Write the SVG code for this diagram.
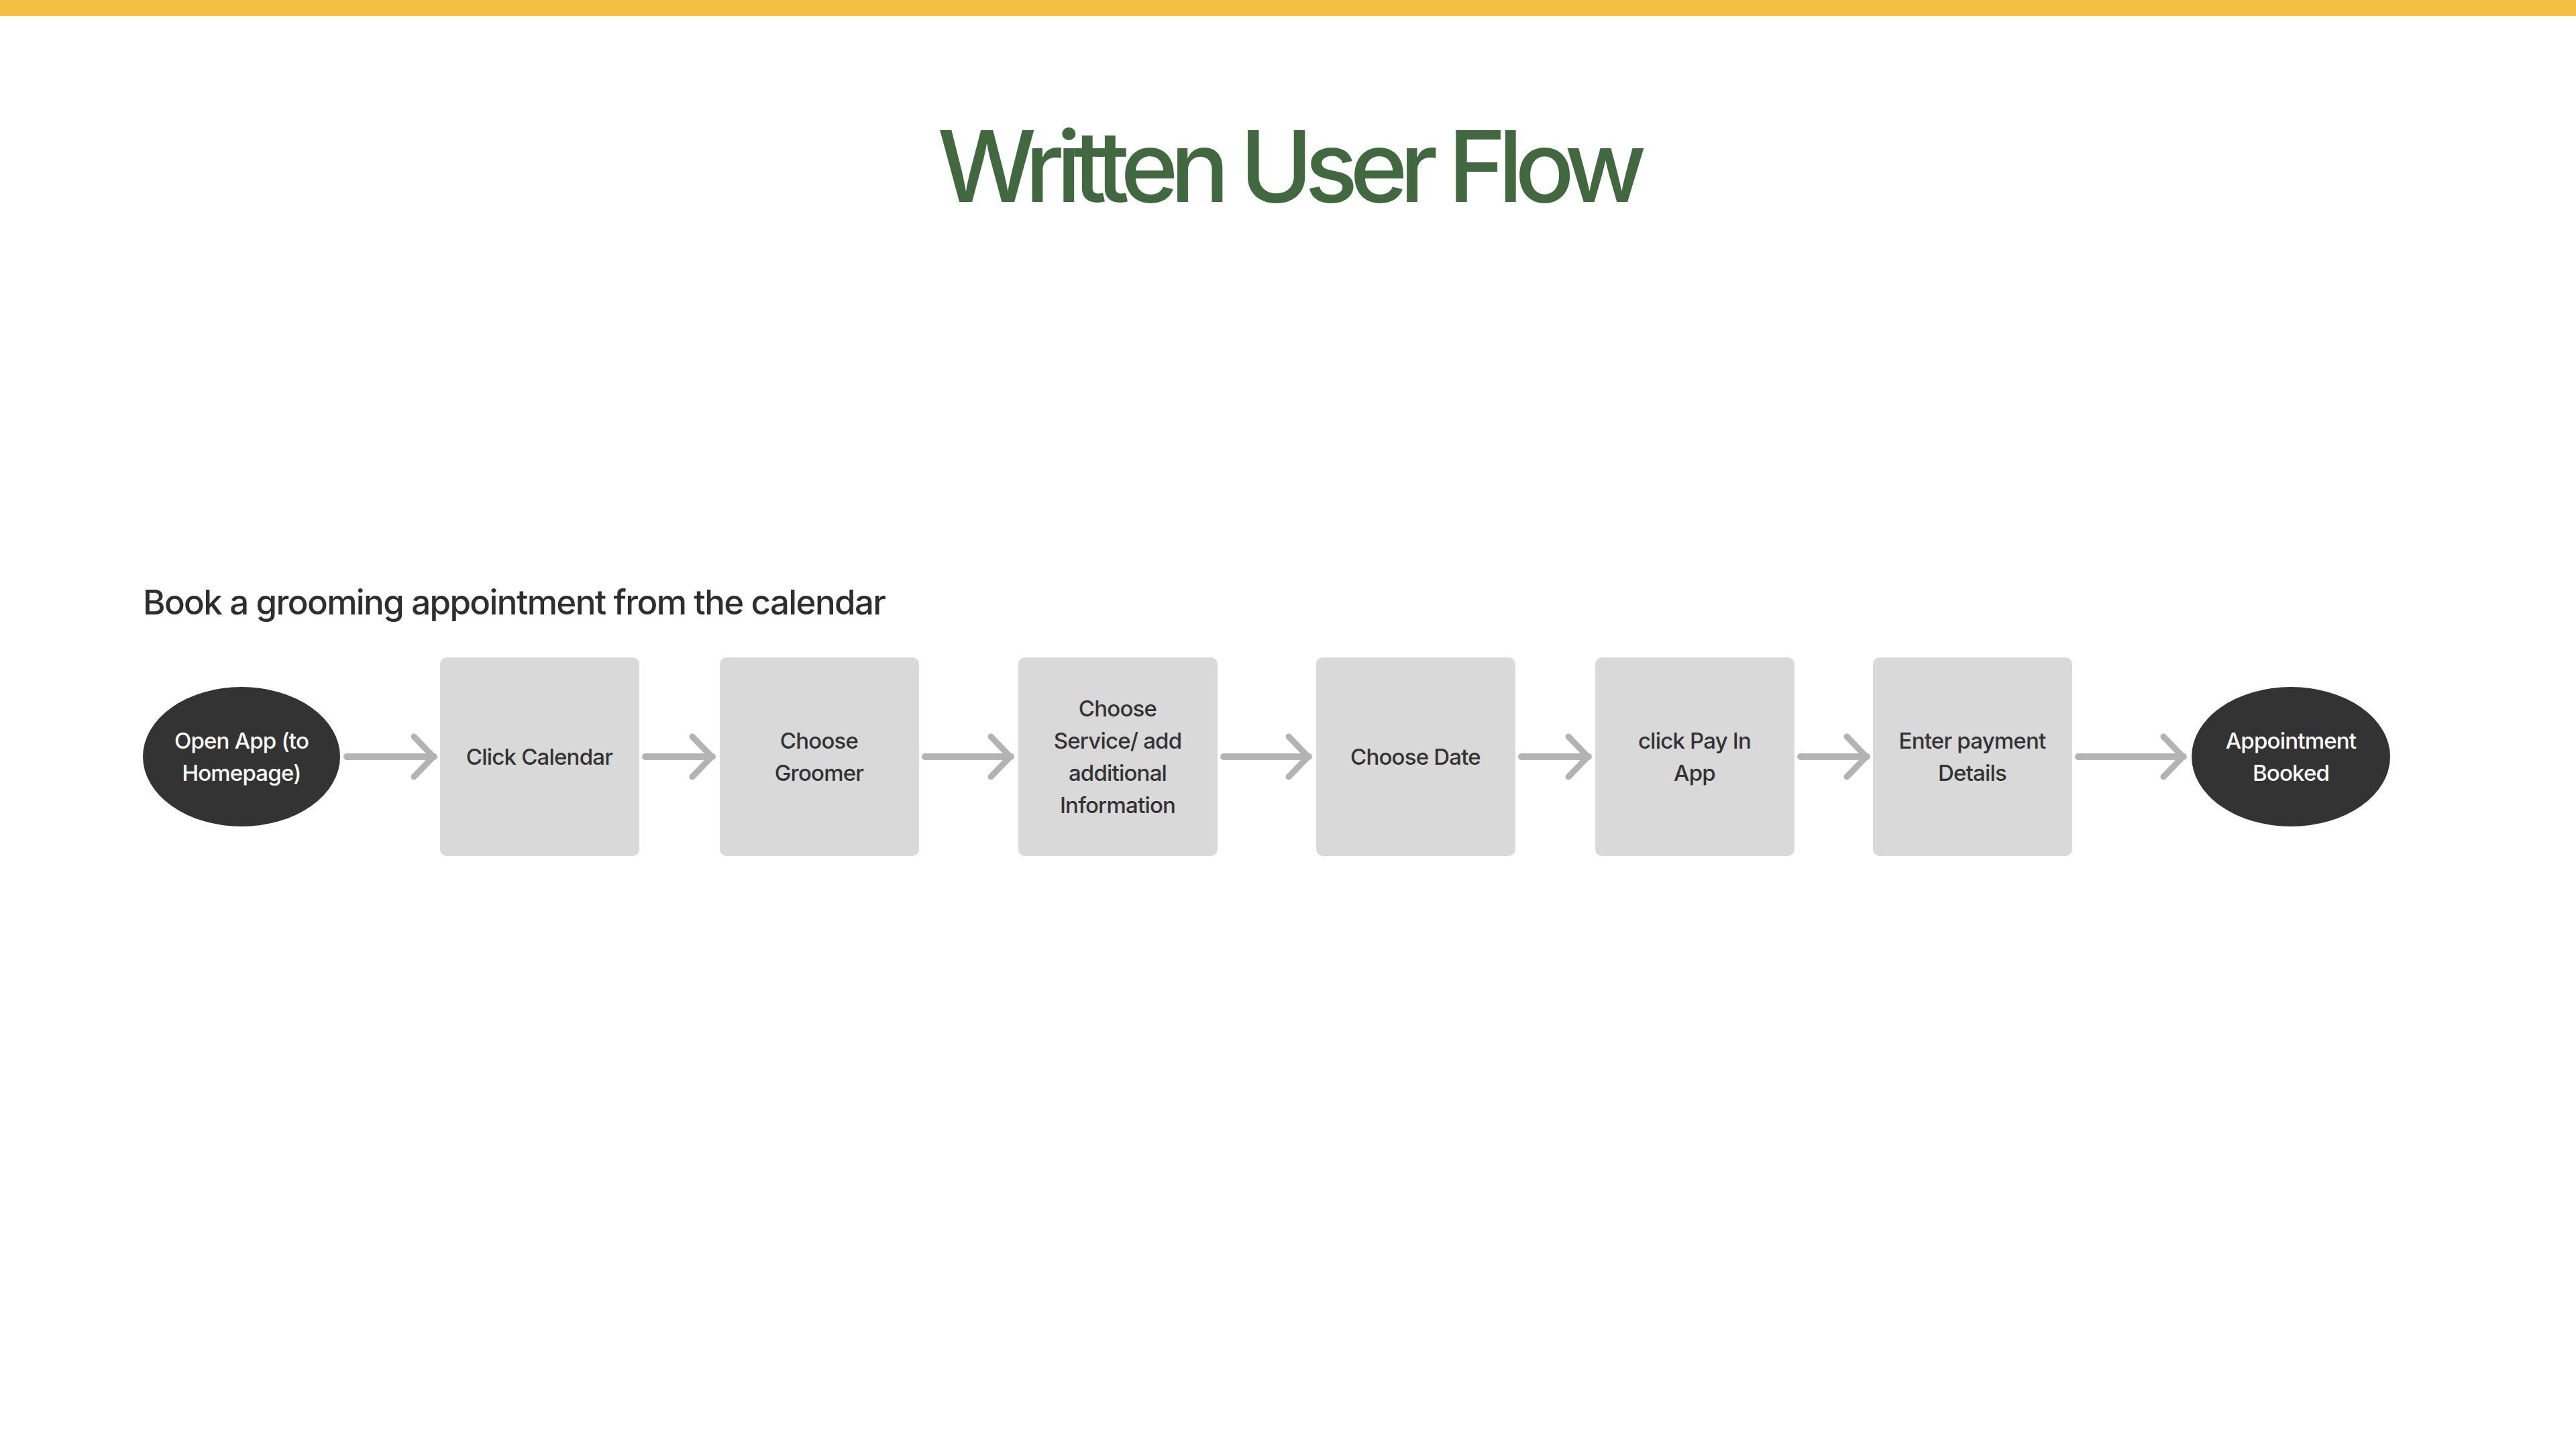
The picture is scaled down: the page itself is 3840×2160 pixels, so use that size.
<svg xmlns="http://www.w3.org/2000/svg" width="3840" height="2160" viewBox="0 0 3840 2160">
<defs>
<style>
.title{font-family:Inter,"Liberation Sans",sans-serif;font-size:147px;font-weight:500;fill:#41683F;letter-spacing:-12px}
.sub{font-family:Inter,"Liberation Sans",sans-serif;font-size:51px;font-weight:500;fill:#2E2E2E;letter-spacing:-1.6px}
.box{fill:#D9D9D9}
.term{fill:#333333}
.t{font-family:Inter,"Liberation Sans",sans-serif;font-size:33px;font-weight:500;fill:#333333;text-anchor:middle;letter-spacing:-0.8px}
.tw{font-family:Inter,"Liberation Sans",sans-serif;font-size:33px;font-weight:500;fill:#FFFFFF;text-anchor:middle;letter-spacing:-0.8px}
.conn{stroke:#B3B3B3;stroke-width:10;stroke-linecap:round;fill:none}
</style>
<marker id="ah" viewBox="0 0 40 70" refX="36" refY="35" markerWidth="40" markerHeight="70" markerUnits="userSpaceOnUse" orient="auto">
<path d="M6,5 L35,35 L6,65" fill="none" stroke="#B3B3B3" stroke-width="9" stroke-linecap="round" stroke-linejoin="round"/>
</marker>
</defs>
<rect width="3840" height="2160" fill="#FFFFFF"/>
<rect x="0" y="0" width="3840" height="24" fill="#F5C042"/>
<text class="title" x="1920" y="301" text-anchor="middle">Written User Flow</text>
<text class="sub" x="213" y="916">Book a grooming appointment from the calendar</text>

<g id="connectors">
<line class="conn" x1="517" y1="1128" x2="647" y2="1128" marker-end="url(#ah)"/>
<line class="conn" x1="962" y1="1128" x2="1062" y2="1128" marker-end="url(#ah)"/>
<line class="conn" x1="1379" y1="1128" x2="1507" y2="1128" marker-end="url(#ah)"/>
<line class="conn" x1="1824" y1="1128" x2="1951" y2="1128" marker-end="url(#ah)"/>
<line class="conn" x1="2268" y1="1128" x2="2368" y2="1128" marker-end="url(#ah)"/>
<line class="conn" x1="2684" y1="1128" x2="2783" y2="1128" marker-end="url(#ah)"/>
<line class="conn" x1="3098" y1="1128" x2="3255" y2="1128" marker-end="url(#ah)"/>
</g>

<g id="start">
<ellipse class="term" cx="360" cy="1128" rx="147" ry="104"/>
<text class="tw" x="360" y="1116">Open App (to</text>
<text class="tw" x="360" y="1164">Homepage)</text>
</g>
<g id="click-calendar">
<rect class="box" x="656" y="980" width="297" height="296" rx="10"/>
<text class="t" x="804" y="1140">Click Calendar</text>
</g>
<g id="choose-groomer">
<rect class="box" x="1073" y="980" width="297" height="296" rx="10"/>
<text class="t" x="1221" y="1116">Choose</text>
<text class="t" x="1221" y="1164">Groomer</text>
</g>
<g id="choose-service">
<rect class="box" x="1518" y="980" width="297" height="296" rx="10"/>
<text class="t" x="1666" y="1068">Choose</text>
<text class="t" x="1666" y="1116">Service/ add</text>
<text class="t" x="1666" y="1164">additional</text>
<text class="t" x="1666" y="1212">Information</text>
</g>
<g id="choose-date">
<rect class="box" x="1962" y="980" width="297" height="296" rx="10"/>
<text class="t" x="2110" y="1140">Choose Date</text>
</g>
<g id="click-pay">
<rect class="box" x="2378" y="980" width="297" height="296" rx="10"/>
<text class="t" x="2526" y="1116">click Pay In</text>
<text class="t" x="2526" y="1164">App</text>
</g>
<g id="enter-payment">
<rect class="box" x="2792" y="980" width="297" height="296" rx="10"/>
<text class="t" x="2940" y="1116">Enter payment</text>
<text class="t" x="2940" y="1164">Details</text>
</g>
<g id="end">
<ellipse class="term" cx="3415" cy="1128" rx="148" ry="104"/>
<text class="tw" x="3415" y="1116">Appointment</text>
<text class="tw" x="3415" y="1164">Booked</text>
</g>
</svg>
